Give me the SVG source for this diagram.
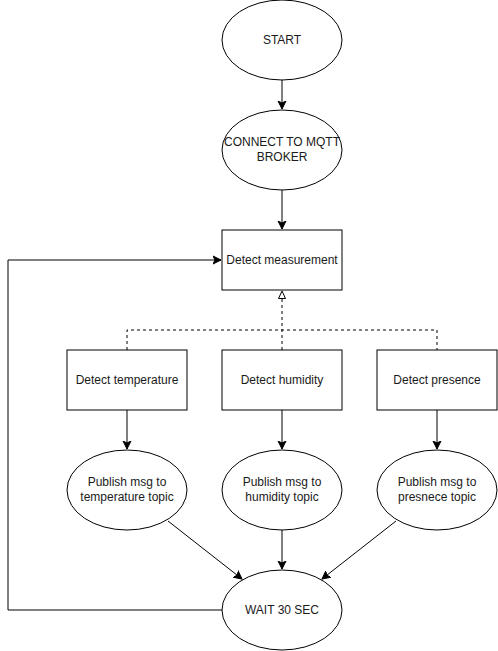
<svg xmlns="http://www.w3.org/2000/svg" width="498" height="651" viewBox="0 0 498 651">
<defs>
<marker id="arr" markerWidth="10" markerHeight="10" refX="8" refY="4" orient="auto" markerUnits="userSpaceOnUse" viewBox="0 0 10 8">
<path d="M0,0 L8,4 L0,8 L2,4 Z" fill="#000" stroke="#000" stroke-width="1"/>
</marker>
<marker id="open" markerWidth="10" markerHeight="10" refX="8" refY="4" orient="auto" markerUnits="userSpaceOnUse" viewBox="0 0 10 8">
<path d="M0.5,0.5 L8,4 L0.5,7.5 Z" fill="#fff" stroke="#000" stroke-width="1"/>
</marker>
<style>
.n{fill:#fff;stroke:#000;stroke-width:1}
.t{font-family:"Liberation Sans",Arial,sans-serif;font-size:12px;fill:#1a1a1a;text-anchor:middle}
.c{fill:none;stroke:#000;stroke-width:1}
.d{fill:none;stroke:#000;stroke-width:1;stroke-dasharray:3 3}
</style>
</defs>
<rect width="498" height="651" fill="#fff"/>
<g id="connectors">
<line class="c" x1="282" y1="80" x2="282" y2="109" marker-end="url(#arr)"/>
<line class="c" x1="282" y1="190" x2="282" y2="229" marker-end="url(#arr)"/>
<path class="d" d="M127,350 V330 H437 V350 M282,350 V291" marker-end="url(#open)"/>
<line class="c" x1="127" y1="410" x2="127" y2="449" marker-end="url(#arr)"/>
<line class="c" x1="282" y1="410" x2="282" y2="449" marker-end="url(#arr)"/>
<line class="c" x1="437" y1="410" x2="437" y2="449" marker-end="url(#arr)"/>
<line class="c" x1="168" y1="521" x2="242" y2="579" marker-end="url(#arr)"/>
<line class="c" x1="282" y1="530" x2="282" y2="569" marker-end="url(#arr)"/>
<line class="c" x1="396" y1="521" x2="322" y2="579" marker-end="url(#arr)"/>
<path class="c" d="M222,610 H8 V260 H221" marker-end="url(#arr)"/>
</g>
<g id="start"><ellipse class="n" cx="282" cy="40" rx="60" ry="40"/><text class="t" x="282" y="44">START</text></g>
<g id="connect"><ellipse class="n" cx="282" cy="150" rx="60" ry="40"/><text class="t" x="282" y="146">CONNECT TO MQTT</text><text class="t" x="282" y="161">BROKER</text></g>
<g id="measure"><rect class="n" x="222" y="230" width="120" height="60"/><text class="t" x="282" y="264">Detect measurement</text></g>
<g id="temp"><rect class="n" x="67" y="350" width="120" height="60"/><text class="t" x="127" y="384">Detect temperature</text></g>
<g id="hum"><rect class="n" x="222" y="350" width="120" height="60"/><text class="t" x="282" y="384">Detect humidity</text></g>
<g id="pres"><rect class="n" x="377" y="350" width="120" height="60"/><text class="t" x="437" y="384">Detect presence</text></g>
<g id="pubtemp"><ellipse class="n" cx="127" cy="490" rx="60" ry="40"/><text class="t" x="127" y="486">Publish msg to</text><text class="t" x="127" y="501">temperature topic</text></g>
<g id="pubhum"><ellipse class="n" cx="282" cy="490" rx="60" ry="40"/><text class="t" x="282" y="486">Publish msg to</text><text class="t" x="282" y="501">humidity topic</text></g>
<g id="pubpres"><ellipse class="n" cx="437" cy="490" rx="60" ry="40"/><text class="t" x="437" y="486">Publish msg to</text><text class="t" x="437" y="501">presnece topic</text></g>
<g id="wait"><ellipse class="n" cx="282" cy="610" rx="60" ry="40"/><text class="t" x="282" y="614">WAIT 30 SEC</text></g>
</svg>
